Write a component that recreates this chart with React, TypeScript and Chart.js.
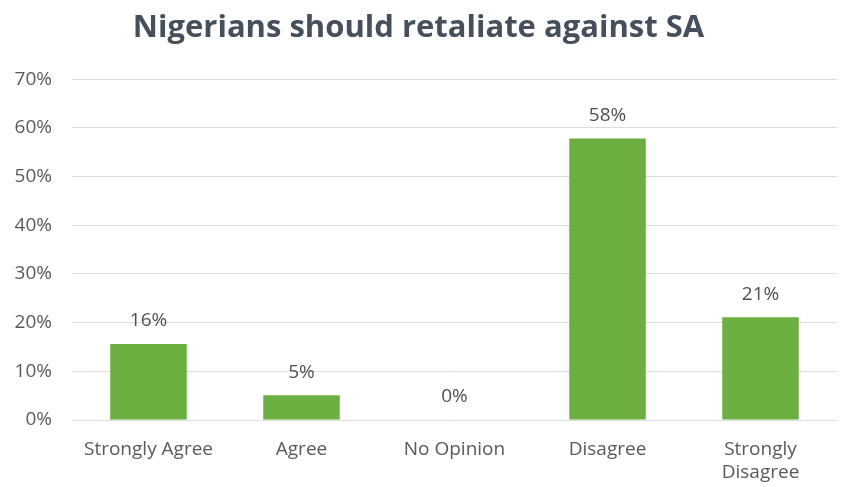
import React, { useEffect, useRef } from "react";
import { Chart, registerables } from "chart.js";

Chart.register(...registerables);

const title = "Nigerians should retaliate against SA";
const categories: (string | string[])[] = [
  "Strongly Agree",
  "Agree",
  "No Opinion",
  "Disagree",
  ["Strongly", "Disagree"],
];
const values = [15.6, 5.1, 0, 57.8, 21.1];
const yMin = 0;
const yMax = 70;
const yStep = 10;

const FONT = "'Open Sans', 'DejaVu Sans', sans-serif";

const dataLabels = {
  id: "dataLabels",
  afterDatasetsDraw(chart: any) {
    const ctx = chart.ctx;
    const meta = chart.getDatasetMeta(0);
    ctx.save();
    ctx.font = `19px ${FONT}`;
    ctx.fillStyle = "#505050";
    ctx.textAlign = "center";
    ctx.textBaseline = "middle";
    meta.data.forEach((bar: any, i: number) => {
      const v = chart.data.datasets[0].data[i] as number;
      ctx.fillText(`${Math.round(v)}%`, bar.x, bar.y - 23);
    });
    ctx.restore();
  },
};

export default function App() {
  const canvasRef = useRef<HTMLCanvasElement>(null);

  useEffect(() => {
    document.body.style.margin = "0";
    const canvas = canvasRef.current!;
    const chart = new Chart(canvas, {
      type: "bar",
      data: {
        labels: categories,
        datasets: [
          {
            data: values,
            backgroundColor: "#6aaf3f",
            borderWidth: 0,
            barPercentage: 1,
            categoryPercentage: 0.5,
          },
        ],
      },
      options: {
        animation: false,
        responsive: false,
        maintainAspectRatio: false,
        layout: { padding: { left: 0, right: 12, top: 0, bottom: 0 } },
        plugins: {
          legend: { display: false },
          tooltip: { enabled: false },
          title: {
            display: true,
            text: title,
            color: "#46505c",
            font: { family: FONT, size: 31, weight: "bold", lineHeight: 1.2 },
            padding: { top: 10, bottom: 32 },
          },
        },
        scales: {
          x: {
            grid: { display: false, drawTicks: false },
            border: { display: false },
            ticks: {
              color: "#595959",
              font: { family: FONT, size: 19, lineHeight: 1.2 },
              padding: 18,
              maxRotation: 0,
              autoSkip: false,
            },
            afterFit: (scale: any) => {
              scale.height = 67;
            },
          },
          y: {
            min: yMin,
            max: yMax,
            grid: { color: "#dcdcdc", lineWidth: 1, drawTicks: false },
            border: { display: false },
            ticks: {
              stepSize: yStep,
              color: "#595959",
              font: { family: FONT, size: 19 },
              padding: 20,
              callback: (v: any) => `${v}%`,
            },
            afterFit: (scale: any) => {
              scale.width = 72;
            },
          },
        },
      },
      plugins: [dataLabels],
    });
    return () => chart.destroy();
  }, []);

  return (
    <div style={{ width: 849, height: 487, background: "#ffffff" }}>
      <canvas ref={canvasRef} width={849} height={487} style={{ display: "block" }} />
    </div>
  );
}
